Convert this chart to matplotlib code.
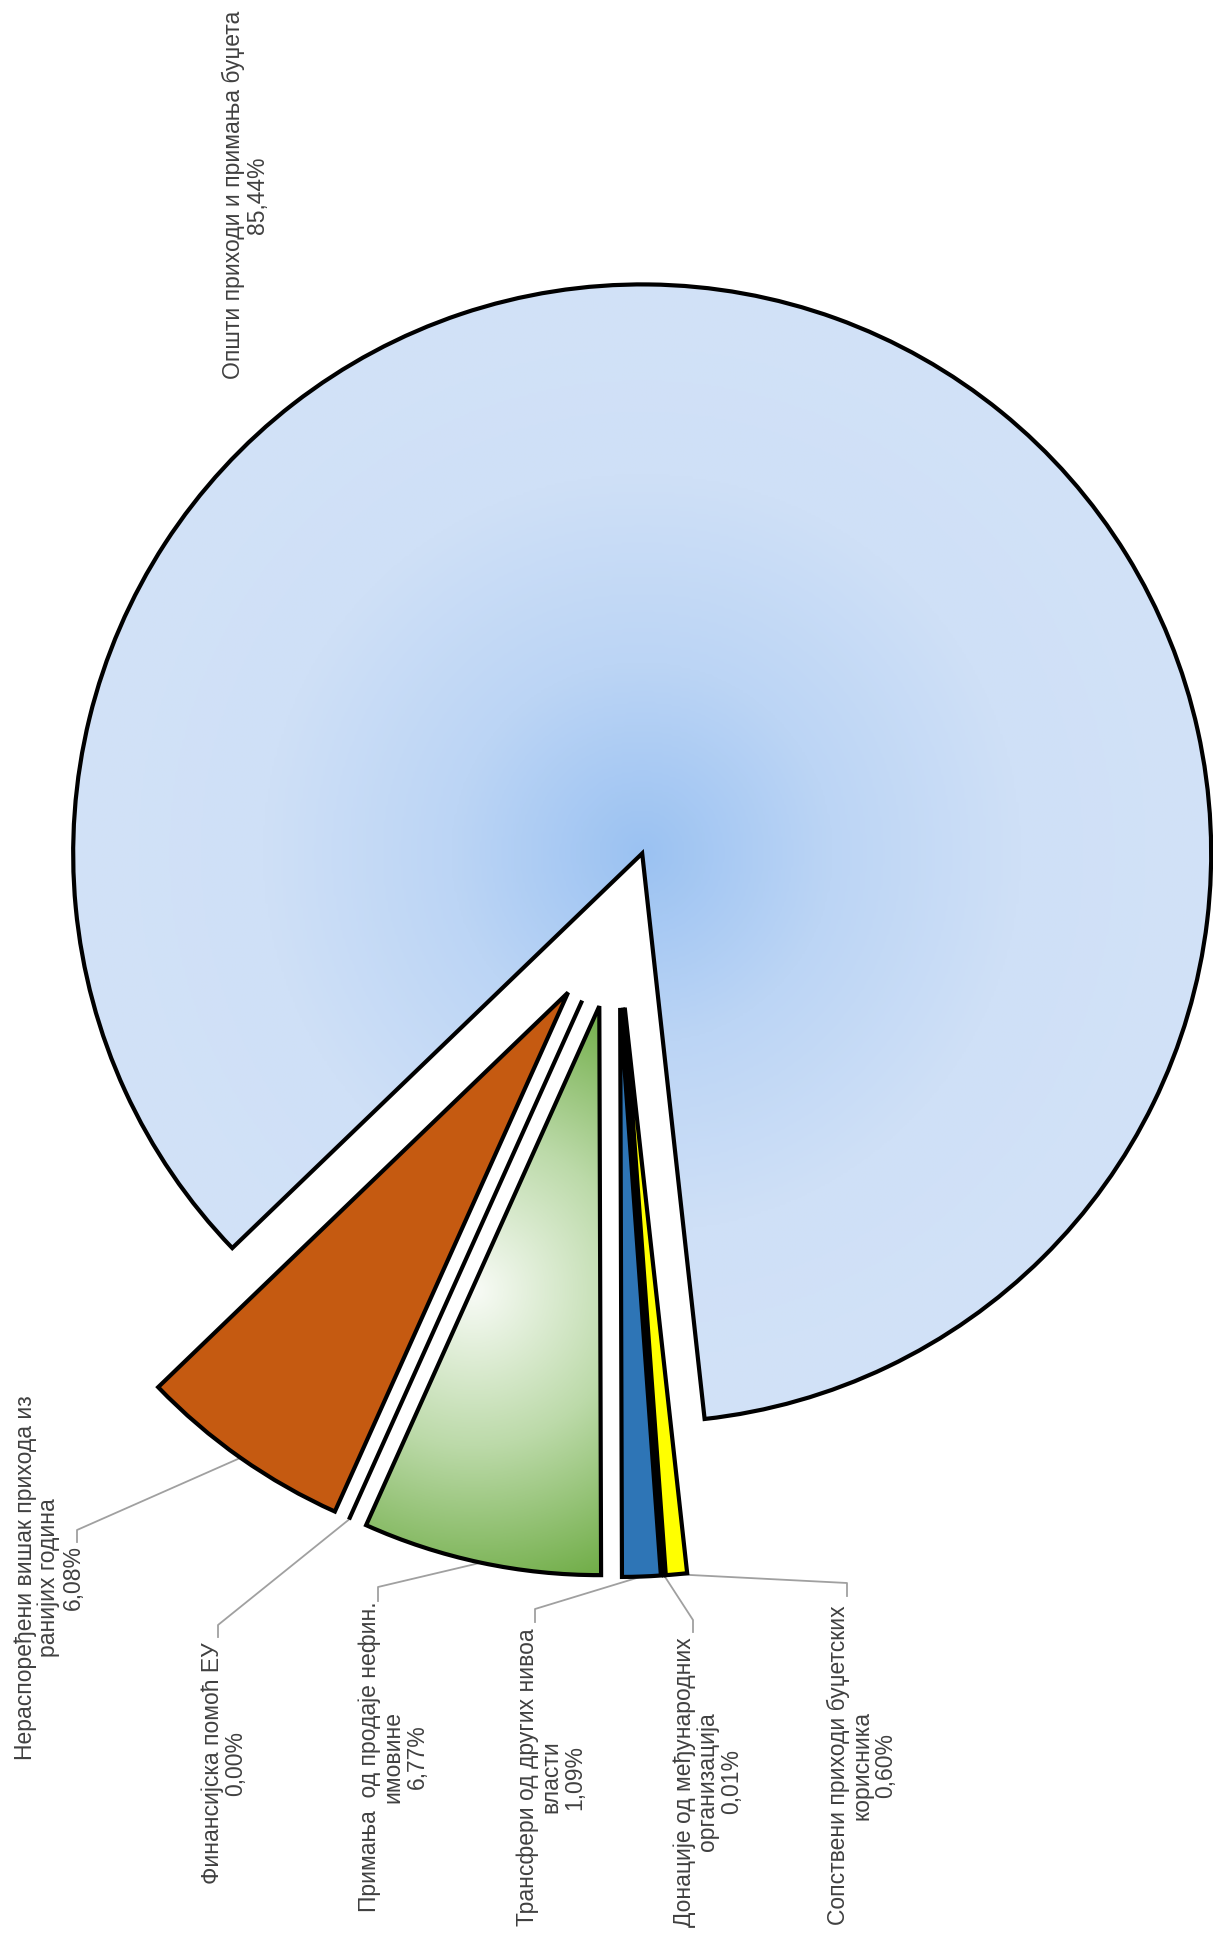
""" Struktura prihoda - pita okrenuta za 90 stepeni
"""

import matplotlib.pyplot as plt
import numpy as np
from matplotlib.colors import LinearSegmentedColormap

plt.rcParams['font.family'] = ['Liberation Sans', 'DejaVu Sans']

# redosled: od desne ivice glavnog isecka prema levo
labels = ['Сопствени приходи буџетских\nкорисника',
          'Донације од међународних\nорганизација',
          'Трансфери од других нивоа\nвласти',
          'Примања  од продаје нефин.\nимовине',
          'Финансијска помоћ ЕУ',
          'Нераспоређени вишак прихода из\nранијих година',
          'Општи приходи и примања буџета']
values = [0.60, 0.01, 1.09, 6.77, 0.00, 6.08, 85.44]
colors = ['#ffff00', '#000000', '#2e75b6', '#70ad47', '#000000', '#c55a11', '#d2e2f7']

# pozicije natpisa i kolena linija (pikseli)
label_xy = [(862, 1765), (708, 1782), (551, 1777), (393, 1757), (224, 1763), (49, 1578), (245, 195)]
elbows = [(847, 1583, 1596), (693, 1620, 1632), (535, 1609, 1622), (378, 1587, 1601),
          (218, 1625, 1637), (77, 1530, 1542), None]

W, H = 1213, 1937
cx, cy, R = 617, 923, 569

fig = plt.figure(figsize=(W / 100, H / 100), dpi=100)
ax = fig.add_axes([0, 0, 1, 1])

# svi isecci su izvuceni, glavni malo manje
explode = [74 if v > 50 else 85 for v in values]
wedges, _ = ax.pie(values, explode=explode, colors=colors, startangle=83.7,
                   counterclock=True, center=(cx, cy), radius=R,
                   wedgeprops=dict(edgecolor='black', linewidth=3))

# radijalni gradijent za glavni isecak
main = wedges[-1]
mx, my = main.center
yy, xx = np.mgrid[my - R:my + R:500j, mx - R:mx + R:500j]
t = np.clip(np.hypot(xx - mx, yy - my) / R, 0, 1)
plava = LinearSegmentedColormap.from_list('plava', ['#9bc2f2', '#bcd5f5', '#cfe0f7', '#d2e2f7'])
im = ax.imshow(t, cmap=plava, extent=(mx - R, mx + R, my - R, my + R), origin='lower',
               zorder=0.5, interpolation='bilinear')
im.set_clip_path(main)
main.set_facecolor('none')

# gradijent za zeleni isecak (iz centra okvira)
green = wedges[3]
v = green.get_path().vertices
x0, y0 = v.min(axis=0)
x1, y1 = v.max(axis=0)
gx, gy = (x0 + x1) / 2 - 10, (y0 + y1) / 2
yy, xx = np.mgrid[y0:y1:300j, x0:x1:300j]
dmax = np.hypot(x1 - gx, y1 - gy)
t = np.clip(np.hypot(xx - gx, yy - gy) / dmax, 0, 1)
zelena = LinearSegmentedColormap.from_list('zelena', ['#f8fbf6', '#bcdaa9', '#70ad47'])
im2 = ax.imshow(t, cmap=zelena, extent=(x0, x1, y0, y1), origin='lower',
                zorder=0.5, interpolation='bilinear')
im2.set_clip_path(green)
green.set_facecolor('none')

# natpisi i linije
for w, lab, val, (lx, ly), e in zip(wedges, labels, values, label_xy, elbows):
    pct = f'{val:.2f}'.replace('.', ',') + '%'
    ax.text(lx, ly, lab + '\n' + pct, rotation=90, ha='center', va='center',
            multialignment='center', fontsize=16.5, color='#404040', linespacing=1.05)
    if e is not None:
        th = np.deg2rad((w.theta1 + w.theta2) / 2)
        sx = w.center[0] + w.r * np.cos(th)
        sy = w.center[1] + w.r * np.sin(th)
        ax.plot([sx, e[0], e[0]], [sy, e[1], e[2]], color='#a0a0a0', lw=1.3, zorder=0.8)

ax.set_xlim(0, W)
ax.set_ylim(H, 0)
ax.set_aspect('equal')
ax.axis('off')

plt.savefig('out.png', dpi=100)
